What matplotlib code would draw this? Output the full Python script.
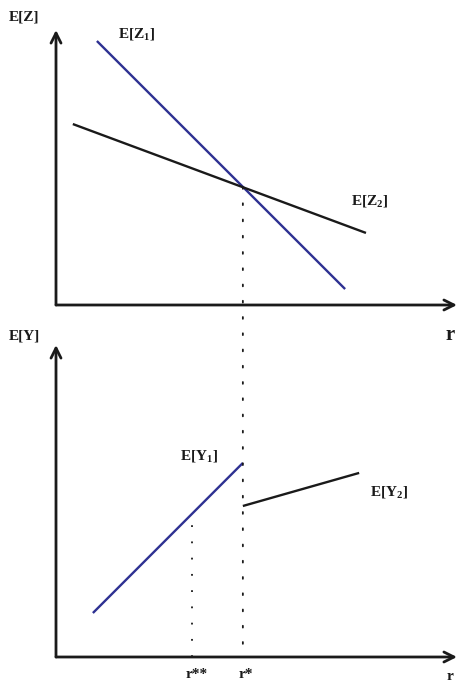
import matplotlib.pyplot as plt
from matplotlib.patches import ConnectionPatch

plt.rcParams['font.family'] = 'Liberation Serif'
plt.rcParams['font.weight'] = 'bold'
plt.rcParams['mathtext.fontset'] = 'custom'
plt.rcParams['mathtext.rm'] = 'Liberation Serif:bold'
plt.rcParams['mathtext.bf'] = 'Liberation Serif:bold'

# donnees (unites arbitraires, r de 0 a 100)
z1_r = [10.2, 72.1]
z1_val = [96.0, 5.8]
z2_r = [4.2, 77.3]
z2_val = [65.8, 26.2]

y1_r = [9.2, 46.6]
y1_val = [14.1, 62.2]
y2_r = [46.6, 75.6]
y2_val = [48.4, 59.0]

r_star = 46.6
z_star = 42.9
r_2star = 33.9
y_2star = 45.9

blue = '#2e3192'
W, H = 457, 682

fig = plt.figure(figsize=(W / 100, H / 100), dpi=100)

# axes en pixels
def make_ax(bottom_px, top_px):
    ax = fig.add_axes([56 / W, (H - bottom_px) / H, (W - 56) / W, (bottom_px - top_px) / H])
    ax.set_xlim(0, 100)
    ax.set_ylim(0, 100)
    ax.axis('off')
    ax.annotate('', xy=(1, 0), xytext=(0, 0), xycoords='axes fraction',
                arrowprops=dict(arrowstyle='->', lw=2, color='#1a1a1a', mutation_scale=18,
                                shrinkA=0, shrinkB=0))
    ax.annotate('', xy=(0, 1), xytext=(0, 0), xycoords='axes fraction',
                arrowprops=dict(arrowstyle='->', lw=2, color='#1a1a1a', mutation_scale=18,
                                shrinkA=0, shrinkB=0))
    return ax

ax1 = make_ax(305, 30)
ax2 = make_ax(657, 345)

# panneau du haut
ax1.plot(z1_r, z1_val, color=blue, lw=1.7, solid_capstyle='butt')
ax1.plot(z2_r, z2_val, color='#1a1a1a', lw=1.7, solid_capstyle='butt')

# panneau du bas
ax2.plot(y1_r, y1_val, color=blue, lw=1.7, solid_capstyle='butt')
ax2.plot(y2_r, y2_val, color='#1a1a1a', lw=1.7, solid_capstyle='butt')
ax2.plot([r_2star, r_2star], [0, y_2star], color='#1a1a1a', lw=1.3,
         linestyle=(0, (1, 8)))

con = ConnectionPatch(xyA=(r_star, z_star), coordsA=ax1.transData,
                      xyB=(r_star, 0), coordsB=ax2.transData,
                      color='#1a1a1a', lw=1.3, linestyle=(0, (1, 8)))
fig.add_artist(con)

# textes
def txt(x, y, s, size=11, ha='left'):
    fig.text(x / W, 1 - y / H, s, fontsize=size, ha=ha, va='center',
             fontweight='bold', color='#1a1a1a')

txt(9, 17, 'E[Z]')
txt(118, 35, r'E[Z$_{1}$]')
txt(351, 202, r'E[Z$_{2}$]')
txt(446, 335, 'r', size=15)
txt(9, 336, 'E[Y]')
txt(180, 457, r'E[Y$_{1}$]')
txt(370, 493, r'E[Y$_{2}$]')
txt(186, 675, 'r**')
txt(239, 675, 'r*')
txt(447, 676, 'r')

fig.savefig('out.png', dpi=100)
